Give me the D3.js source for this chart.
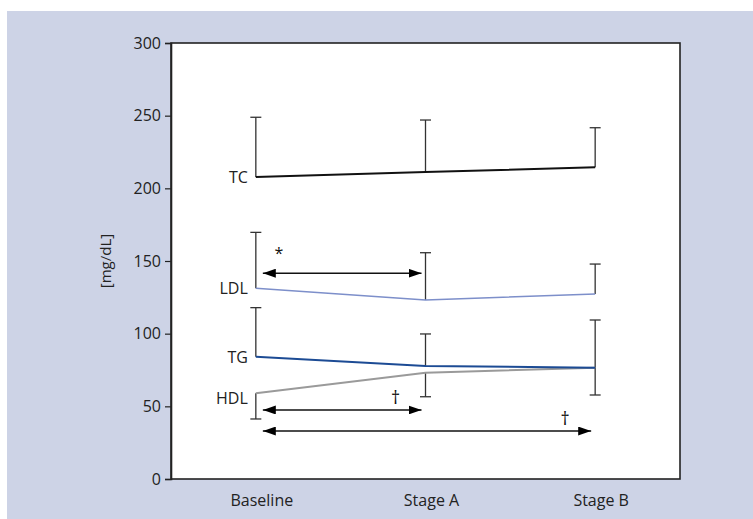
<!DOCTYPE html>
<html>
<head>
<meta charset="utf-8">
<script src="https://cdn.jsdelivr.net/npm/d3@7"></script>
<style>
  body { margin: 0; background: #fff; }
  svg { display: block; font-family: "Open Sans", "Noto Sans", sans-serif; }
</style>
</head>
<body>
<svg id="chart" width="753" height="519"></svg>
<script>
// values (mg/dL)
const stages = ['Baseline', 'Stage A', 'Stage B'];
const yTicks = [0, 50, 100, 150, 200, 250, 300];

const tcMean = [207.8, 211.2, 214.5];
const tcSd = [41.1, 35.8, 27.2];
const ldlMean = [131.2, 123.2, 127.3];
const ldlSd = [38.5, 32.5, 20.6];
const tgMean = [84.2, 77.8, 76.6];
const tgSd = [33.7, 22.0, 32.8];
const hdlMean = [59.0, 73.1, 76.6];
const hdlSd = [17.7, 16.5, 18.8];

// significance arrows: from stage, to stage, height, mark
const compFrom = ['Baseline', 'Baseline', 'Baseline'];
const compTo = ['Stage A', 'Stage A', 'Stage B'];
const compY = [141.6, 47.5, 33.0];
const compMark = ['*', '\u2020', '\u2020'];

const series = [
  { name: 'TC', mean: tcMean, sd: tcSd, dir: 1, color: '#111111', width: 2 },
  { name: 'LDL', mean: ldlMean, sd: ldlSd, dir: 1, color: '#7d8fca', width: 1.6 },
  { name: 'TG', mean: tgMean, sd: tgSd, dir: 1, color: '#1c4b94', width: 2 },
  { name: 'HDL', mean: hdlMean, sd: hdlSd, dir: -1, color: '#9a9a9a', width: 2 }
];

const svg = d3.select('#chart');
const margin = { left: 171, top: 43, right: 73, bottom: 40 };
const W = 753, H = 519;
const w = W - margin.left - margin.right;
const h = H - margin.top - margin.bottom;
const fs = 16;

// panel background
svg.append('rect')
  .attr('x', 7).attr('y', 11)
  .attr('width', W - 7).attr('height', H - 11)
  .attr('fill', '#cdd3e6');

const g = svg.append('g').attr('transform', `translate(${margin.left},${margin.top})`);

g.append('rect')
  .attr('width', w).attr('height', h)
  .attr('fill', '#fff')
  .attr('stroke', '#222').attr('stroke-width', 1.6);

const x = d3.scalePoint().domain(stages).range([0, w]).padding(0.5);
const y = d3.scaleLinear().domain([0, 300]).range([h, 0]);

// y axis
const yAxis = g.append('g')
  .call(d3.axisLeft(y).tickValues(yTicks).tickSize(6).tickPadding(4));
yAxis.select('.domain').attr('stroke', '#222').attr('stroke-width', 1.6);
yAxis.selectAll('.tick line').attr('stroke', '#222').attr('stroke-width', 1.2);
yAxis.selectAll('.tick text').attr('font-size', fs).attr('fill', '#222')
  .attr('font-family', '"Open Sans", "Noto Sans", sans-serif');

g.append('text')
  .attr('transform', `translate(${105 - margin.left},${h / 2}) rotate(-90)`)
  .attr('text-anchor', 'middle')
  .attr('dominant-baseline', 'central')
  .attr('font-size', 15)
  .attr('fill', '#222')
  .text('[mg/dL]');

// x labels
g.selectAll('.xlab')
  .data(stages)
  .enter()
  .append('text')
    .attr('class', 'xlab')
    .attr('x', d => x(d) + 6)
    .attr('y', h + 27)
    .attr('text-anchor', 'middle')
    .attr('font-size', fs)
    .attr('fill', '#222')
    .text(d => d);

// error bars (one side only)
series.forEach(s => {
  const eg = g.append('g');
  stages.forEach((st, i) => {
    const y0 = y(s.mean[i]);
    const y1 = y(s.mean[i] + s.dir * s.sd[i]);
    eg.append('line')
      .attr('x1', x(st)).attr('x2', x(st))
      .attr('y1', y0).attr('y2', y1)
      .attr('stroke', '#333').attr('stroke-width', 1.3);
    eg.append('line')
      .attr('x1', x(st) - 5.5).attr('x2', x(st) + 5.5)
      .attr('y1', y1).attr('y2', y1)
      .attr('stroke', '#333').attr('stroke-width', 1.3);
  });
});

// mean lines
const line = d3.line().x(d => x(d.st)).y(d => y(d.v));
[...series].reverse().forEach(s => {
  g.append('path')
    .datum(stages.map((st, i) => ({ st, v: s.mean[i] })))
    .attr('d', line)
    .attr('fill', 'none')
    .attr('stroke', s.color)
    .attr('stroke-width', s.width);
});

// series labels
series.forEach(s => {
  g.append('text')
    .attr('x', x(stages[0]) - 8)
    .attr('y', y(s.mean[0]) + (s.name === 'HDL' ? 5 : 0))
    .attr('text-anchor', 'end')
    .attr('dominant-baseline', 'central')
    .attr('font-size', fs)
    .attr('fill', '#222')
    .text(s.name);
});

// arrows
const defs = svg.append('defs');
defs.append('marker')
  .attr('id', 'ah')
  .attr('viewBox', '0 0 13 9')
  .attr('refX', 13).attr('refY', 4.5)
  .attr('markerWidth', 13).attr('markerHeight', 9)
  .attr('markerUnits', 'userSpaceOnUse')
  .attr('orient', 'auto-start-reverse')
  .append('path')
    .attr('d', 'M0,0 L13,4.5 L0,9 Z')
    .attr('fill', '#000');

compY.forEach((v, i) => {
  const xa = x(compFrom[i]) + 7;
  const xb = x(compTo[i]) - 4;
  g.append('line')
    .attr('x1', xa).attr('x2', xb)
    .attr('y1', y(v)).attr('y2', y(v))
    .attr('stroke', '#111').attr('stroke-width', 1.6)
    .attr('marker-start', 'url(#ah)')
    .attr('marker-end', 'url(#ah)');
  const isStar = compMark[i] === '*';
  g.append('text')
    .attr('x', isStar ? xa + 16 : xb - 26)
    .attr('y', y(v) - (isStar ? 14 : 6))
    .attr('text-anchor', 'middle')
    .attr('font-size', isStar ? 16 : 18)
    .attr('fill', '#111')
    .text(compMark[i]);
});
</script>
</body>
</html>
